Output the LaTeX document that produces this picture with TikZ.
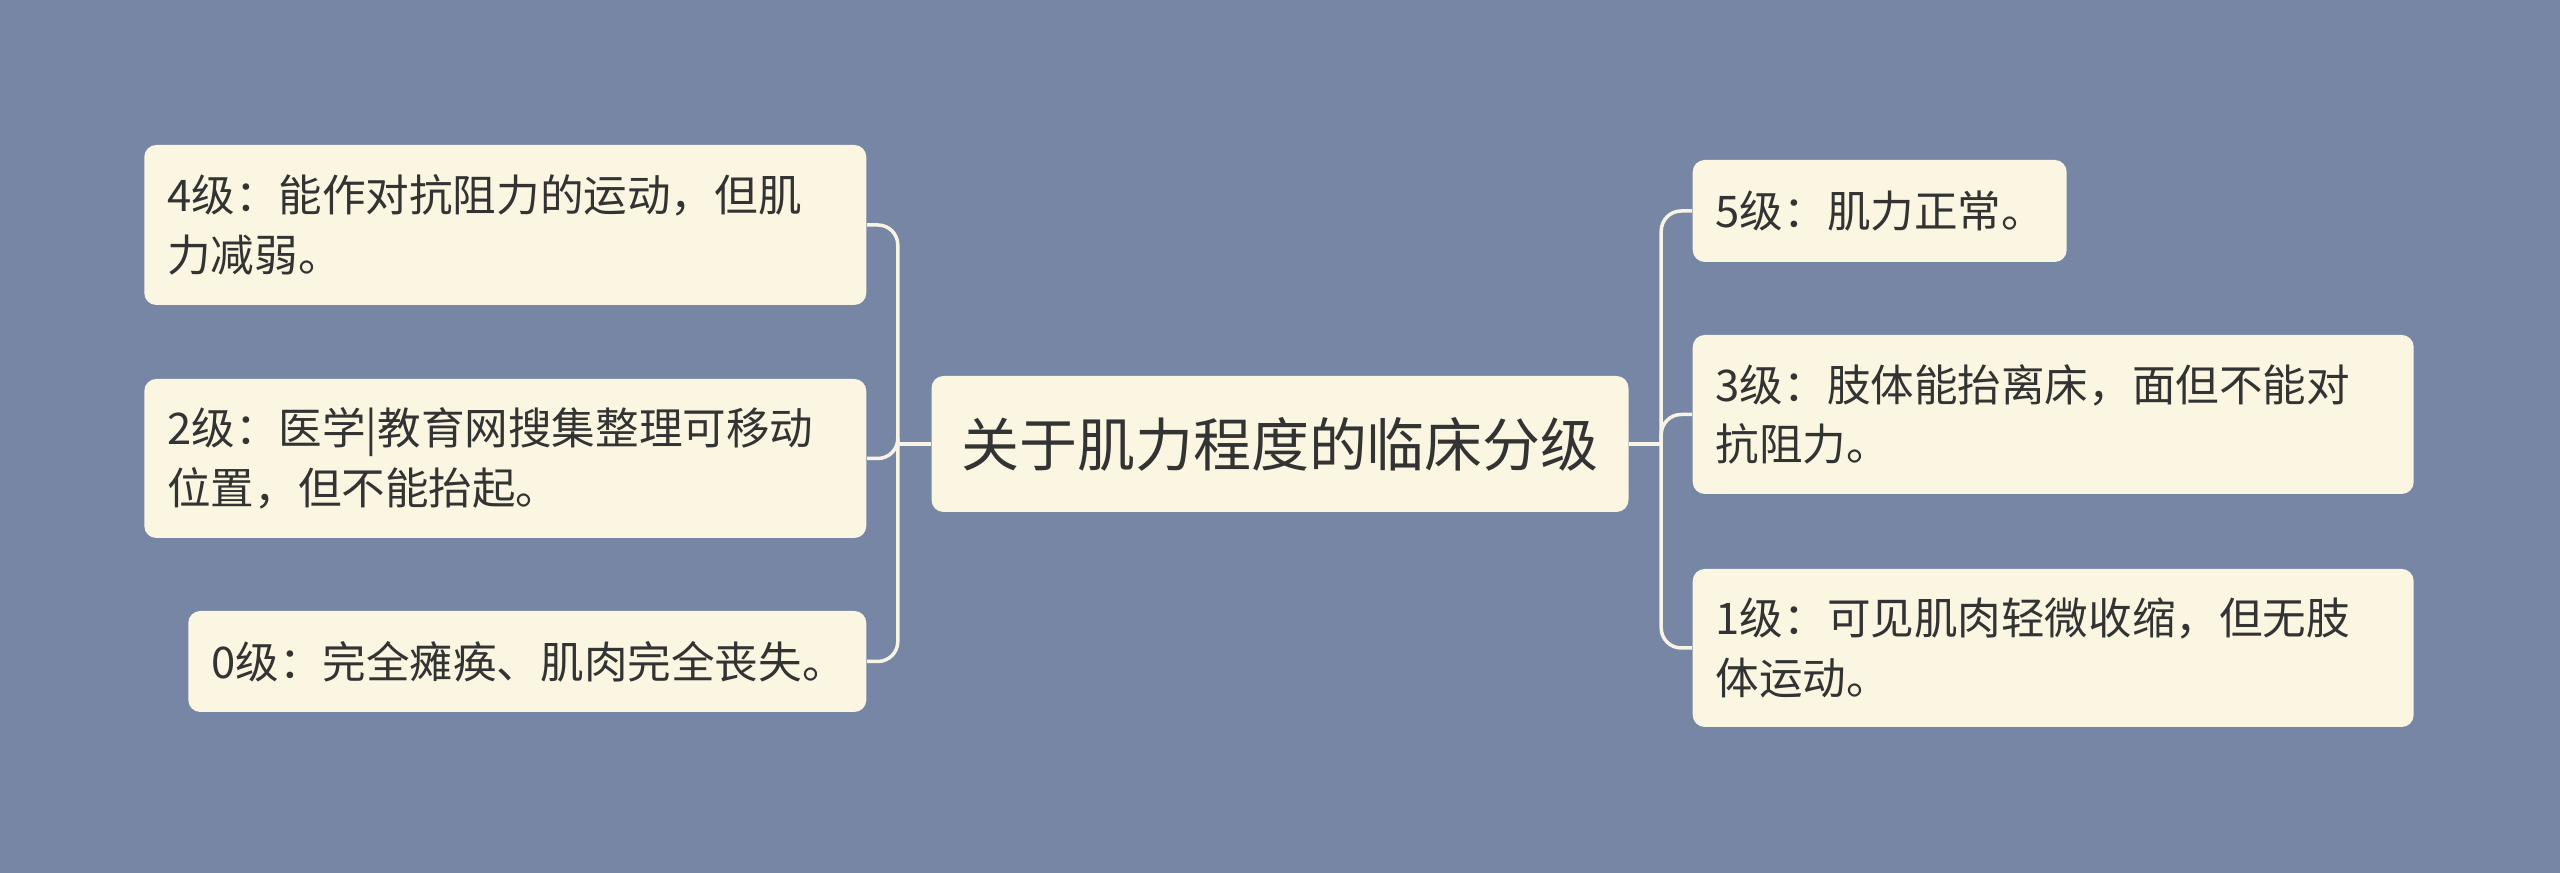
\documentclass[tikz,border=0pt]{standalone}
\usepackage{fontspec}
\setmainfont{Noto Sans CJK SC}
\usepackage{xcolor}
\usepackage{tikz}
\usetikzlibrary{calc, positioning}
\definecolor{fundo}{HTML}{7886A6}
\definecolor{caixa}{HTML}{FBF6E1}
\definecolor{linha}{HTML}{F8F4E4}
\definecolor{texto}{HTML}{333333}

\begin{document}
\begin{tikzpicture}[
    box/.style={fill=caixa, rounded corners=0.12cm, text=texto, inner xsep=0.23cm, inner ysep=0.1cm,
        align=left, font=\fontsize{12.4}{17}\selectfont},
    link/.style={draw=linha, line width=0.035cm, rounded corners=0.2cm}]
    \fill[fundo] (0,0) rectangle (25.6,8.73);
    \useasboundingbox (0,0) rectangle (25.6,8.73);
    % Centro:
    \node[box, minimum width=6.97cm, minimum height=1.36cm, align=center,
        font=\fontsize{16.5}{20}\selectfont] (centro) at (12.80,4.29) {关于肌力程度的临床分级};
    % Lado esquerdo:
    \node[box, text width=6.76cm, minimum height=1.60cm, anchor=east] (g4) at (8.67,6.48) {4级：能作对抗阻力的运动，但肌\\力减弱。};
    \node[box, text width=6.76cm, minimum height=1.59cm, anchor=east] (g2) at (8.67,4.145) {2级：医学|教育网搜集整理可移动\\位置，但不能抬起。};
    \node[box, text width=6.32cm, minimum height=1.01cm, anchor=east] (g0) at (8.67,2.115) {0级：完全瘫痪、肌肉完全丧失。};
    % Lado direito:
    \node[box, text width=3.28cm, minimum height=1.02cm, anchor=west] (g5) at (16.92,6.62) {5级：肌力正常。};
    \node[box, text width=6.75cm, minimum height=1.59cm, anchor=west] (g3) at (16.92,4.585) {3级：肢体能抬离床，面但不能对\\抗阻力。};
    \node[box, text width=6.75cm, minimum height=1.58cm, anchor=west] (g1) at (16.92,2.25) {1级：可见肌肉轻微收缩，但无肢\\体运动。};
    % Ligações:
    \coordinate (esq) at ($(centro.west)+(-0.33,0)$);
    \coordinate (dir) at ($(centro.east)+(0.32,0)$);
    \draw[link] (centro.west) -- (esq);
    \draw[link] (centro.east) -- (dir);
    \foreach \g in {g4,g2,g0}
        \draw[link] (esq) |- (\g.east);
    \foreach \g in {g5,g3,g1}
        \draw[link] (dir) |- (\g.west);
\end{tikzpicture}
\end{document}
